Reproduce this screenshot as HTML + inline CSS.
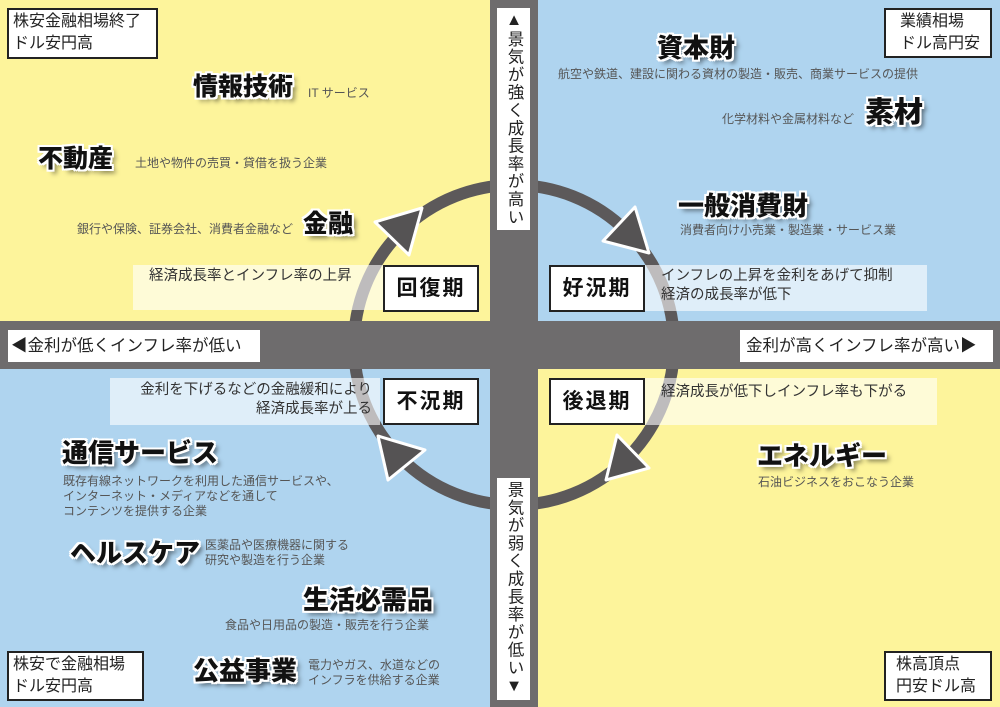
<!DOCTYPE html>
<html><head><meta charset="utf-8"><style>
*{margin:0;padding:0;box-sizing:border-box}
body{width:1000px;height:707px;position:relative;overflow:hidden;font-family:"Liberation Sans","Noto Sans CJK JP",sans-serif;background:#fff}
.a{position:absolute;white-space:nowrap}
.big{font-weight:900;color:#111;font-size:25px;line-height:1;
text-shadow:-2px -2px 0 #fff,2px -2px 0 #fff,-2px 2px 0 #fff,2px 2px 0 #fff,0 -2px 0 #fff,0 2px 0 #fff,-2px 0 0 #fff,2px 0 0 #fff,4px 4px 5px rgba(0,0,0,.5)}
.d{font-size:12px;color:#555;line-height:15px}
.box{position:absolute;background:#fff;border:2px solid #222;font-size:16px;line-height:22px;color:#222;padding:3px 6px}
.ph{position:absolute;background:#fff;border:2px solid #222;font-size:21px;font-weight:bold;color:#111;text-align:center;line-height:43px;letter-spacing:2px}
.hl{position:absolute;background:rgba(255,255,255,.6);font-size:14.5px;color:#333;line-height:19px}
.ax{position:absolute;background:#fff;font-size:16.5px;color:#222}
</style></head><body>
<svg class="a" style="left:0;top:0" width="1000" height="707">
<rect x="0" y="0" width="514" height="345" fill="#fdf49b"/>
<rect x="514" y="0" width="486" height="345" fill="#afd4ef"/>
<rect x="0" y="345" width="514" height="362" fill="#afd4ef"/>
<rect x="514" y="345" width="486" height="362" fill="#fdf49b"/>
<circle cx="514" cy="345" r="160" fill="none" stroke="#5c595a" stroke-width="12"/>
<rect x="490" y="0" width="48" height="707" fill="#6e6c6d"/>
<rect x="0" y="321" width="1000" height="48" fill="#6e6c6d"/>
<g fill="#555354" stroke="#fff" stroke-width="3" stroke-linejoin="round">
<polygon points="375,222 422,208 409,255"/>
<polygon points="603,241 635,207 649,253"/>
<polygon points="617,435 649,468 606,480"/>
<polygon points="378,436 425,450 388,480"/>
</g>
</svg>
<div class="hl" style="left:133px;top:265px;width:252px;height:45px;padding:2px 0 0 16px">経済成長率とインフレ率の上昇</div>
<div class="hl" style="left:645px;top:265px;width:282px;height:46px;padding:2px 0 0 16px">インフレの上昇を金利をあげて抑制<br>経済の成長率が低下</div>
<div class="hl" style="left:110px;top:378px;width:270px;height:47px;padding:3px 8px 0 0;text-align:right">金利を下げるなどの金融緩和により<br>経済成長率が上る</div>
<div class="hl" style="left:645px;top:378px;width:292px;height:47px;padding:5px 0 0 16px">経済成長が低下しインフレ率も下がる</div>
<div class="ph" style="left:383px;top:265px;width:96px;height:47px">回復期</div>
<div class="ph" style="left:549px;top:265px;width:96px;height:47px">好況期</div>
<div class="ph" style="left:383px;top:378px;width:96px;height:47px">不況期</div>
<div class="ph" style="left:549px;top:378px;width:96px;height:47px">後退期</div>
<div class="ax" style="left:497px;top:8px;width:33px;height:222px;writing-mode:vertical-rl;padding-top:3px;line-height:33px;letter-spacing:1.3px">▲景気が強く成長率が高い</div>
<div class="ax" style="left:497px;top:478px;width:33px;height:222px;writing-mode:vertical-rl;padding-top:3px;line-height:33px;letter-spacing:1.3px">景気が弱く成長率が低い▼</div>
<div class="ax" style="left:8px;top:330px;width:252px;height:32px;line-height:32px;padding-left:3px">◀金利が低くインフレ率が低い</div>
<div class="ax" style="left:740px;top:330px;width:253px;height:32px;line-height:32px;padding-left:6px">金利が高くインフレ率が高い▶</div>
<div class="box" style="left:7px;top:8px;width:151px;height:51px;padding:1px 4px">株安金融相場終了<br>ドル安円高</div>
<div class="box" style="left:884px;top:8px;width:108px;height:50px;padding:1px 0 0 14px">業績相場<br>ドル高円安</div>
<div class="box" style="left:7px;top:651px;width:137px;height:50px;padding:1px 4px">株安で金融相場<br>ドル安円高</div>
<div class="box" style="left:884px;top:651px;width:108px;height:50px;padding:1px 0 0 10px">株高頂点<br>円安ドル高</div>
<div class="a big" style="left:193px;top:75px">情報技術</div><div class="a d" style="left:308px;top:86px">IT サービス</div>
<div class="a big" style="left:38px;top:147px">不動産</div><div class="a d" style="left:135px;top:156px">土地や物件の売買・貸借を扱う企業</div>
<div class="a big" style="left:303px;top:212px">金融</div><div class="a d" style="left:77px;top:222px">銀行や保険、証券会社、消費者金融など</div>
<div class="a big" style="left:657px;top:35px;font-size:26px">資本財</div><div class="a d" style="left:558px;top:67px">航空や鉄道、建設に関わる資材の製造・販売、商業サービスの提供</div>
<div class="a big" style="left:865px;top:99px;font-size:29px">素材</div><div class="a d" style="left:722px;top:112px">化学材料や金属材料など</div>
<div class="a big" style="left:678px;top:193px;font-size:26px">一般消費財</div><div class="a d" style="left:680px;top:223px">消費者向け小売業・製造業・サービス業</div>
<div class="a big" style="left:757px;top:443px;font-size:26px">エネルギー</div><div class="a d" style="left:758px;top:475px">石油ビジネスをおこなう企業</div>
<div class="a big" style="left:62px;top:440px;font-size:26px">通信サービス</div><div class="a d" style="left:63px;top:474px">既存有線ネットワークを利用した通信サービスや、<br>インターネット・メディアなどを通して<br>コンテンツを提供する企業</div>
<div class="a big" style="left:70px;top:540px;font-size:26px">ヘルスケア</div><div class="a d" style="left:205px;top:538px">医薬品や医療機器に関する<br>研究や製造を行う企業</div>
<div class="a big" style="left:303px;top:587px;font-size:26px">生活必需品</div><div class="a d" style="left:225px;top:618px">食品や日用品の製造・販売を行う企業</div>
<div class="a big" style="left:193px;top:658px;font-size:26px">公益事業</div><div class="a d" style="left:308px;top:658px">電力やガス、水道などの<br>インフラを供給する企業</div>
</body></html>
